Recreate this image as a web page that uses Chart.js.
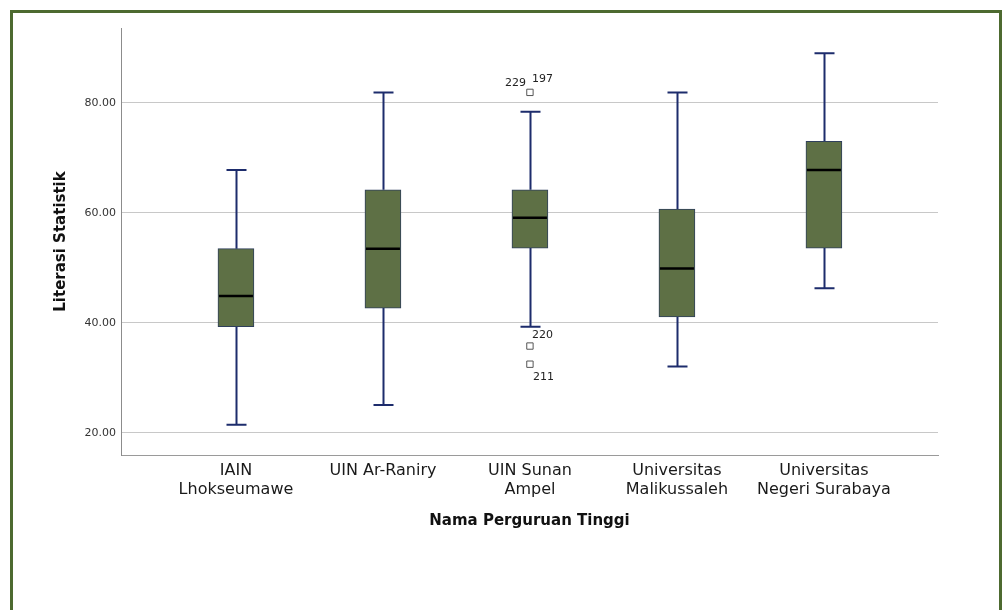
<!DOCTYPE html>
<html>
<head>
<meta charset="utf-8">
<script src="https://cdn.jsdelivr.net/npm/chart.js@4.4.1/dist/chart.umd.min.js"></script>
<style>
  html, body { margin: 0; padding: 0; background: #fff; }
  #wrap { position: relative; width: 1004px; height: 610px; overflow: hidden; }
  #frame { position: absolute; left: 10px; top: 10px; width: 992px; height: 640px; border: 3px solid #4d6a30; box-sizing: border-box; }
  #chart { position: absolute; left: 0; top: 0; }
</style>
</head>
<body>
<div id="wrap">
  <div id="frame"></div>
  <canvas id="chart" width="1004" height="610"></canvas>
</div>
<script>
// Boxplot of "Literasi Statistik" per university
const categories = [
    ['IAIN', 'Lhokseumawe'],
    ['UIN Ar-Raniry'],
    ['UIN Sunan', 'Ampel'],
    ['Universitas', 'Malikussaleh'],
    ['Universitas', 'Negeri Surabaya']
];
const whiskerLow  = [21.5, 25.1, 39.3, 32.1, 46.3];
const q1          = [39.3, 42.7, 53.6, 41.1, 53.6];
const median      = [44.9, 53.5, 59.1, 49.9, 67.8];
const q3          = [53.5, 64.2, 64.2, 60.7, 73.0];
const whiskerHigh = [67.8, 81.9, 78.4, 81.9, 89.0];

// outliers (only UIN Sunan Ampel has them)
const outlierGroup  = [2, 2, 2];
const outlierValues = [81.9, 35.8, 32.5];
const outlierIds    = [['229', '197'], ['220'], ['211']];

const yTicks = [20, 40, 60, 80];

const BOX_W = 36;

// label offsets around each outlier square (dx, dy, align)
const idOffsets = [
    [[-4, -9, 'right'], [2, -13, 'left']],
    [[2, -11, 'left']],
    [[3, 13, 'left']]
];

const boxParts = {
    id: 'boxParts',
    beforeDatasetsDraw(chart) {
        const {ctx, scales: {x, y}} = chart;
        ctx.save();
        ctx.strokeStyle = '#1d2c6c';
        ctx.lineWidth = 2;
        categories.forEach((c, i) => {
            const px = Math.round(x.getPixelForValue(i)) + 0.5;
            const yHi = y.getPixelForValue(whiskerHigh[i]);
            const yLo = y.getPixelForValue(whiskerLow[i]);
            ctx.beginPath();
            ctx.moveTo(px, yHi);
            ctx.lineTo(px, y.getPixelForValue(q3[i]));
            ctx.moveTo(px, y.getPixelForValue(q1[i]));
            ctx.lineTo(px, yLo);
            ctx.moveTo(px - 10, yHi);
            ctx.lineTo(px + 10, yHi);
            ctx.moveTo(px - 10, yLo);
            ctx.lineTo(px + 10, yLo);
            ctx.stroke();
        });
        ctx.restore();
    },
    afterDatasetsDraw(chart) {
        const {ctx, scales: {x, y}} = chart;
        ctx.save();
        ctx.strokeStyle = '#000';
        ctx.lineWidth = 2.5;
        categories.forEach((c, i) => {
            const px = x.getPixelForValue(i);
            const pm = y.getPixelForValue(median[i]);
            ctx.beginPath();
            ctx.moveTo(px - BOX_W / 2 + 1, pm);
            ctx.lineTo(px + BOX_W / 2 - 1, pm);
            ctx.stroke();
        });
        ctx.fillStyle = '#222';
        ctx.font = '11px "DejaVu Sans"';
        ctx.textBaseline = 'middle';
        outlierValues.forEach((v, k) => {
            const px = x.getPixelForValue(outlierGroup[k]);
            const py = y.getPixelForValue(v);
            outlierIds[k].forEach((id, j) => {
                const [dx, dy, al] = idOffsets[k][j];
                ctx.textAlign = al;
                ctx.fillText(id, px + dx, py + dy);
            });
        });
        ctx.restore();
    }
};

new Chart(document.getElementById('chart'), {
    type: 'bar',
    data: {
        datasets: [{
            type: 'bar',
            data: categories.map((c, i) => ({x: i, y: [q1[i], q3[i]]})),
            backgroundColor: '#5e7045',
            borderColor: '#2f3f5c',
            borderWidth: 1,
            borderSkipped: false,
            barThickness: BOX_W
        }, {
            type: 'scatter',
            data: outlierValues.map((v, k) => ({x: outlierGroup[k], y: v})),
            pointStyle: 'rect',
            pointRadius: 4.5,
            backgroundColor: '#fff',
            borderColor: '#555',
            borderWidth: 1
        }]
    },
    options: {
        responsive: false,
        animation: false,
        layout: { padding: { top: 28, right: 66, bottom: 55, left: 0 } },
        plugins: { legend: { display: false }, tooltip: { enabled: false } },
        scales: {
            x: {
                type: 'linear',
                bounds: 'data',
                offset: false,
                min: -0.782,
                max: 4.776,
                afterBuildTicks: (scale) => { scale.ticks = categories.map((c, i) => ({value: i})); },
                afterFit: (scale) => { scale.height = 100; },
                grid: { display: false, drawTicks: false, offset: false },
                border: { display: true, color: '#9a9a9a', width: 1 },
                ticks: {
                    callback: (v) => categories[v],
                    font: { family: 'DejaVu Sans', size: 16, lineHeight: 1.2 },
                    color: '#1a1a1a',
                    padding: 6,
                    maxRotation: 0,
                    autoSkip: false
                },
                title: {
                    display: true,
                    text: 'Nama Perguruan Tinggi',
                    font: { family: 'DejaVu Sans', size: 15, weight: 'bold' },
                    color: '#111',
                    padding: { bottom: 25 }
                }
            },
            y: {
                min: 16,
                max: 93.6,
                afterBuildTicks: (scale) => { scale.ticks = yTicks.map(v => ({value: v})); },
                afterFit: (scale) => { scale.width = 121; },
                grid: { color: '#c8c8c8', drawTicks: false },
                border: { display: true, color: '#8c8c8c', width: 1 },
                ticks: {
                    callback: (v) => v.toFixed(2),
                    font: { family: 'DejaVu Sans', size: 11 },
                    color: '#333',
                    padding: 5
                },
                title: {
                    display: true,
                    text: 'Literasi Statistik',
                    font: { family: 'DejaVu Sans', size: 15, weight: 'bold' },
                    color: '#111',
                    padding: { top: 52 }
                }
            }
        }
    },
    plugins: [boxParts]
});
</script>
</body>
</html>
